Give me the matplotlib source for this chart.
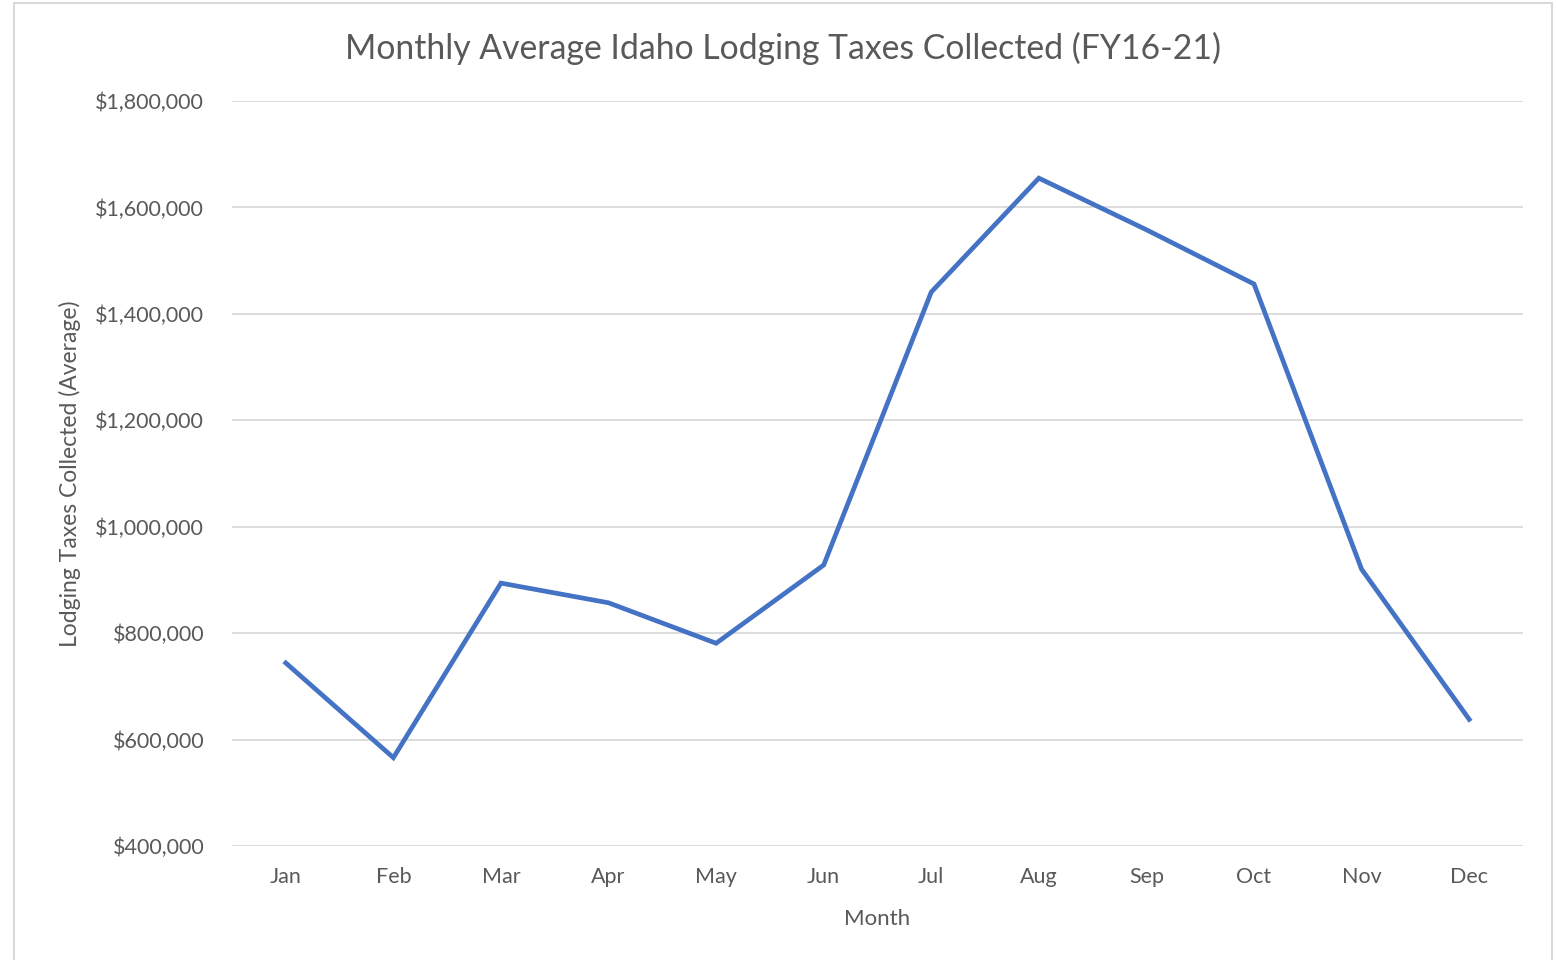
import matplotlib.pyplot as plt
from matplotlib.patches import Rectangle
from matplotlib.ticker import FuncFormatter

months = ["Jan", "Feb", "Mar", "Apr", "May", "Jun",
          "Jul", "Aug", "Sep", "Oct", "Nov", "Dec"]
avg_taxes = [744000, 566000, 894000, 857000, 781000, 928000,
             1441000, 1655000, 1558000, 1456000, 920000, 638000]
y_ticks = [400000, 600000, 800000, 1000000, 1200000, 1400000, 1600000, 1800000]

plt.rcParams["font.family"] = ["Lato", "DejaVu Sans"]
text_color = "#595959"
grid_color = "#D9D9D9"

fig = plt.figure(figsize=(15.57, 9.6), dpi=100)
ax = fig.add_axes([232 / 1557, 1 - 846 / 960, (1523 - 232) / 1557, (846 - 101) / 960])

# light grey chart border like the Excel chart area
fig.patches.append(Rectangle((14 / 1557, -0.02), (1552 - 14) / 1557, 1 - 3 / 960 + 0.02,
                             transform=fig.transFigure, fill=False,
                             edgecolor=grid_color, linewidth=1.5))

x = range(len(months))
ax.plot(x, avg_taxes, color="#4472C4", linewidth=3.4, solid_joinstyle="miter", zorder=3)

ax.set_xlim(-0.5, len(months) - 0.5)
ax.set_ylim(y_ticks[0], y_ticks[-1])
ax.set_xticks(list(x))
ax.set_xticklabels(months)
ax.set_yticks(y_ticks)
ax.yaxis.set_major_formatter(FuncFormatter(lambda v, p: f"${v:,.0f}"))

ax.grid(axis="y", color=grid_color, linewidth=1.3)
ax.set_axisbelow(True)
for s in ax.spines.values():
    s.set_visible(False)
ax.tick_params(axis="both", length=0, labelsize=15.5, colors=text_color)
ax.tick_params(axis="y", pad=20)
ax.tick_params(axis="x", pad=15)

ax.set_xlabel("Month", fontsize=16, color=text_color, labelpad=16)
ax.set_ylabel("Lodging Taxes Collected (Average)", fontsize=16.5, color=text_color, labelpad=10)

fig.text(783 / 1557, 1 - 48 / 960, "Monthly Average Idaho Lodging Taxes Collected (FY16-21)",
         ha="center", va="center", fontsize=24.3, color=text_color)

fig.savefig("out.png", dpi=100)
